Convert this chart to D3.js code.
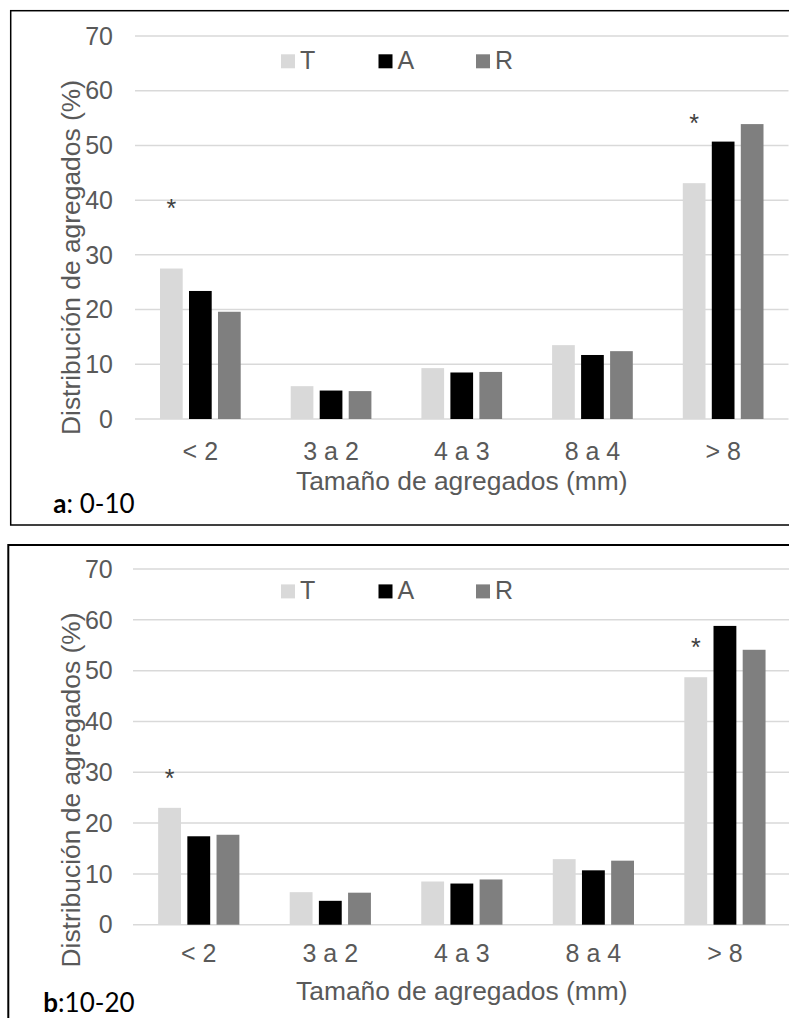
<!DOCTYPE html>
<html>
<head>
<meta charset="utf-8">
<script src="https://cdn.jsdelivr.net/npm/d3@7"></script>
<style>
  body { margin: 0; background: #fff; }
  svg { display: block; font-family: "Liberation Sans", Arial, sans-serif; }
  .tick { fill: #595959; font-size: 25px; }
  .title { fill: #595959; font-size: 26.4px; }
  .star { fill: #404040; font-size: 25px; }
  .tag { fill: #000; font-family: Lato, "Noto Sans", sans-serif; font-size: 26px; }
</style>
</head>
<body>
<script>

// categories and series
var categories = ["< 2", "3 a 2", "4 a 3", "8 a 4", "> 8"];
var series = ["T", "A", "R"];
var colors = ["#d9d9d9", "#000000", "#7f7f7f"];
var yTicks = [0, 10, 20, 30, 40, 50, 60, 70];

// panel a: 0-10
var a_T = [27.5, 6.0, 9.3, 13.5, 43.1];
var a_A = [23.4, 5.2, 8.5, 11.7, 50.7];
var a_R = [19.6, 5.1, 8.6, 12.4, 53.9];
var a_star = [39.5, null, null, null, 55.0];

// panel b: 10-20
var b_T = [23.0, 6.4, 8.5, 12.9, 48.7];
var b_A = [17.4, 4.7, 8.1, 10.7, 58.8];
var b_R = [17.7, 6.3, 8.9, 12.6, 54.1];
var b_star = [30.0, null, null, null, 55.7];

var W = 789, H = 1018;

var svg = d3.select("body").append("svg")
    .attr("width", W)
    .attr("height", H);

function panel(opt) {
    var g = svg.append("g");

    // frame (runs off the right/bottom edge like the cropped original)
    g.append("rect")
        .attr("x", opt.frame[0]).attr("y", opt.frame[1])
        .attr("width", opt.frame[2]).attr("height", opt.frame[3])
        .attr("fill", "none").attr("stroke", "#000").attr("stroke-width", opt.frameW);

    var x0 = d3.scaleBand().domain(categories).range(opt.xr);
    var x1 = d3.scaleBand().domain(series).range([0, x0.bandwidth()])
        .paddingInner(0.217).paddingOuter(0.862);
    var y = d3.scaleLinear().domain([0, 70]).range(opt.yr);

    // gridlines
    g.selectAll(".grid").data(yTicks).enter().append("line")
        .attr("x1", opt.xr[0]).attr("x2", opt.xr[1])
        .attr("y1", function(d) { return y(d); })
        .attr("y2", function(d) { return y(d); })
        .attr("stroke", "#d9d9d9").attr("stroke-width", 1.5);

    // y tick labels
    g.selectAll(".yt").data(yTicks).enter().append("text")
        .attr("class", "tick")
        .attr("x", opt.ytx).attr("y", function(d) { return y(d); })
        .attr("dy", "0.35em").attr("text-anchor", "end")
        .text(function(d) { return d; });

    // bars
    var vals = [opt.T, opt.A, opt.R];
    series.forEach(function(s, si) {
        g.selectAll(".bar" + s).data(vals[si]).enter().append("rect")
            .attr("x", function(d, i) { return x0(categories[i]) + x1(s); })
            .attr("width", x1.bandwidth())
            .attr("y", function(d) { return y(d); })
            .attr("height", function(d) { return y(0) - y(d); })
            .attr("fill", colors[si]);
    });

    // asterisks above the T bars
    opt.star.forEach(function(v, i) {
        if (v == null) return;
        g.append("text").attr("class", "star")
            .attr("x", x0(categories[i]) + x1("T") + x1.bandwidth() / 2)
            .attr("y", y(v)).attr("dy", "0.57em")
            .attr("text-anchor", "middle")
            .text("*");
    });

    // x tick labels
    g.selectAll(".xt").data(categories).enter().append("text")
        .attr("class", "tick")
        .attr("x", function(d) { return x0(d) + x0.bandwidth() / 2; })
        .attr("y", opt.xty).attr("text-anchor", "middle")
        .text(function(d) { return d; });

    // axis titles
    g.append("text").attr("class", "title")
        .attr("x", (opt.xr[0] + opt.xr[1]) / 2).attr("y", opt.xtitle)
        .attr("text-anchor", "middle")
        .text("Tamaño de agregados (mm)");

    g.append("text").attr("class", "title")
        .attr("transform", "translate(" + opt.ytitle[0] + "," + opt.ytitle[1] + ") rotate(-90)")
        .attr("text-anchor", "middle")
        .text("Distribución de agregados (%)");

    // legend
    var lg = g.selectAll(".lg").data(series).enter().append("g")
        .attr("transform", function(d, i) { return "translate(" + (281 + i * 97.5) + "," + opt.legY + ")"; });
    lg.append("rect").attr("width", 14).attr("height", 14).attr("y", -14)
        .attr("fill", function(d, i) { return colors[i]; });
    lg.append("text").attr("class", "tick").attr("x", 19).attr("y", 0.5)
        .text(function(d) { return d; });

    // panel tag
    var t = g.append("text").attr("class", "tag")
        .attr("x", opt.tag[0]).attr("y", opt.tag[1]);
    t.append("tspan").attr("font-weight", "bold").text(opt.tagB);
    t.append("tspan").text(opt.tagR);
}

panel({
    frame: [10.7, 10.7, 800, 514.3], frameW: 1.5,
    xr: [135, 788.5], yr: [419, 36],
    T: a_T, A: a_A, R: a_R, star: a_star,
    ytx: 113, xty: 460, xtitle: 490, ytitle: [80, 257.5],
    legY: 68.3, tag: [53.3, 513.3], tagB: "a", tagR: ": 0-10"
});

panel({
    frame: [8.3, 545, 800, 500], frameW: 2,
    xr: [133, 790.7], yr: [924.7, 569],
    T: b_T, A: b_A, R: b_R, star: b_star,
    ytx: 112.7, xty: 961.7, xtitle: 1000, ytitle: [80, 790],
    legY: 598.4, tag: [43.3, 1011.7], tagB: "b", tagR: ":10-20"
});

</script>
</body>
</html>
